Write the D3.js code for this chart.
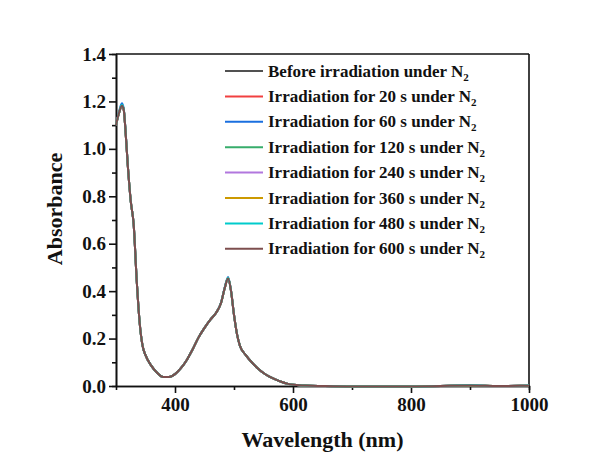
<!DOCTYPE html>
<html>
<head>
<meta charset="utf-8">
<script src="https://cdn.jsdelivr.net/npm/d3@7"></script>
<style>
  body { margin: 0; background: #fff; }
  svg text { font-family: "Times New Roman", "Liberation Serif", serif; font-weight: bold; fill: #111; }
</style>
</head>
<body>
<div id="chart"></div>
<script>
// wavelength grid (nm)
var wavelengths = [300, 305, 310, 313, 316, 320, 325, 330, 335, 340, 345, 350, 360, 370, 380, 390, 400, 410, 420, 430, 440, 450, 460, 470, 478, 484, 490, 495, 500, 505, 510, 520, 530, 540, 550, 560, 570, 580, 590, 600, 620, 650, 700, 800, 900, 950, 1000];

// absorbance for each spectrum (nearly overlapping)
var before = [1.10, 1.15, 1.180, 1.165, 1.08, 0.93, 0.78, 0.68, 0.45, 0.27, 0.17, 0.13, 0.085, 0.055, 0.038, 0.038, 0.050, 0.075, 0.11, 0.155, 0.205, 0.245, 0.28, 0.31, 0.35, 0.41, 0.452, 0.40, 0.30, 0.22, 0.17, 0.13, 0.10, 0.075, 0.055, 0.040, 0.028, 0.018, 0.010, 0.005, 0.002, 0.000, -0.002, -0.002, 0.002, 0.000, 0.001];
var irr20 = [1.10, 1.15, 1.182, 1.167, 1.08, 0.93, 0.78, 0.68, 0.45, 0.27, 0.17, 0.13, 0.085, 0.055, 0.038, 0.038, 0.050, 0.075, 0.11, 0.155, 0.205, 0.245, 0.28, 0.31, 0.35, 0.41, 0.454, 0.40, 0.30, 0.22, 0.17, 0.13, 0.10, 0.075, 0.055, 0.040, 0.028, 0.018, 0.010, 0.005, 0.002, 0.000, -0.002, -0.002, 0.003, 0.000, 0.001];
var irr60 = [1.10, 1.155, 1.192, 1.172, 1.085, 0.93, 0.78, 0.68, 0.45, 0.27, 0.17, 0.13, 0.085, 0.055, 0.038, 0.038, 0.050, 0.075, 0.11, 0.155, 0.205, 0.245, 0.28, 0.31, 0.352, 0.413, 0.460, 0.402, 0.30, 0.22, 0.17, 0.13, 0.10, 0.075, 0.055, 0.040, 0.028, 0.018, 0.010, 0.005, 0.002, 0.000, -0.002, -0.002, 0.002, 0.000, 0.001];
var irr120 = [1.10, 1.15, 1.184, 1.168, 1.08, 0.93, 0.78, 0.68, 0.45, 0.27, 0.17, 0.13, 0.085, 0.055, 0.038, 0.038, 0.050, 0.075, 0.11, 0.155, 0.205, 0.245, 0.28, 0.31, 0.35, 0.41, 0.455, 0.40, 0.30, 0.22, 0.17, 0.13, 0.10, 0.075, 0.055, 0.040, 0.028, 0.018, 0.010, 0.005, 0.002, 0.000, -0.002, -0.002, 0.002, 0.000, 0.001];
var irr240 = [1.10, 1.15, 1.183, 1.167, 1.08, 0.93, 0.78, 0.68, 0.45, 0.27, 0.17, 0.13, 0.085, 0.055, 0.038, 0.038, 0.050, 0.075, 0.11, 0.155, 0.205, 0.245, 0.28, 0.31, 0.35, 0.41, 0.455, 0.40, 0.30, 0.22, 0.17, 0.13, 0.10, 0.075, 0.055, 0.040, 0.028, 0.018, 0.010, 0.005, 0.002, 0.000, -0.002, -0.002, 0.003, 0.000, 0.001];
var irr360 = [1.10, 1.15, 1.184, 1.168, 1.08, 0.93, 0.78, 0.68, 0.45, 0.27, 0.17, 0.13, 0.085, 0.055, 0.038, 0.038, 0.050, 0.075, 0.11, 0.155, 0.205, 0.245, 0.28, 0.31, 0.35, 0.41, 0.456, 0.40, 0.30, 0.22, 0.17, 0.13, 0.10, 0.075, 0.055, 0.040, 0.028, 0.018, 0.010, 0.005, 0.002, 0.000, -0.002, -0.002, 0.002, 0.000, 0.001];
var irr480 = [1.10, 1.15, 1.186, 1.169, 1.08, 0.93, 0.78, 0.68, 0.45, 0.27, 0.17, 0.13, 0.085, 0.055, 0.038, 0.038, 0.050, 0.075, 0.11, 0.155, 0.205, 0.245, 0.28, 0.31, 0.35, 0.41, 0.457, 0.40, 0.30, 0.22, 0.17, 0.13, 0.10, 0.075, 0.055, 0.040, 0.028, 0.018, 0.010, 0.005, 0.002, 0.000, -0.002, -0.002, 0.003, 0.000, 0.002];
var irr600 = [1.10, 1.15, 1.182, 1.166, 1.08, 0.93, 0.78, 0.68, 0.45, 0.27, 0.17, 0.13, 0.085, 0.055, 0.038, 0.038, 0.050, 0.075, 0.11, 0.155, 0.205, 0.245, 0.28, 0.31, 0.35, 0.41, 0.453, 0.40, 0.30, 0.22, 0.17, 0.13, 0.10, 0.075, 0.055, 0.040, 0.028, 0.018, 0.010, 0.005, 0.002, 0.000, -0.002, -0.002, 0.002, 0.000, 0.001];

var labels = ["Before irradiation under N", "Irradiation for 20 s under N", "Irradiation for 60 s under N",
  "Irradiation for 120 s under N", "Irradiation for 240 s under N", "Irradiation for 360 s under N",
  "Irradiation for 480 s under N", "Irradiation for 600 s under N"];
var colors = ["#515151", "#F14040", "#1A6FDF", "#37AD6B", "#B177DE", "#CC9900", "#00CBCC", "#7D4E4E"];
var allSeries = [before, irr20, irr60, irr120, irr240, irr360, irr480, irr600];

var xTicks = [400, 600, 800, 1000];
var yTicks = [0, 0.2, 0.4, 0.6, 0.8, 1.0, 1.2, 1.4];

var svgWidth = 600;
var svgHeight = 454;
var margin = { top: 54, right: 71, bottom: 68, left: 116 };
var chWidth = svgWidth - margin.left - margin.right;
var chHeight = svgHeight - margin.top - margin.bottom;

var svg = d3.select("#chart")
  .append("svg")
  .attr("width", svgWidth)
  .attr("height", svgHeight);

var chGroup = svg.append("g")
  .attr("transform", `translate(${margin.left}, ${margin.top})`);

var xScale = d3.scaleLinear().domain([300, 1000]).range([0, chWidth]);
var yScale = d3.scaleLinear().domain([0, 1.4]).range([chHeight, 0]);

// minor ticks
var xMinor = d3.axisBottom(xScale).tickValues([500, 700, 900]).tickSize(4).tickFormat("");
var yMinor = d3.axisLeft(yScale).tickValues([0.1, 0.3, 0.5, 0.7, 0.9, 1.1, 1.3]).tickSize(4).tickFormat("");
chGroup.append("g").attr("transform", `translate(0, ${chHeight})`).call(xMinor);
chGroup.append("g").call(yMinor);

var xAxis = d3.axisBottom(xScale).tickValues(xTicks).tickSize(7).tickSizeOuter(0).tickPadding(5)
  .tickFormat(d3.format("d"));
var yAxis = d3.axisLeft(yScale).tickValues(yTicks).tickSize(7).tickSizeOuter(0).tickPadding(3)
  .tickFormat(d3.format(".1f"));

chGroup.append("g")
  .attr("transform", `translate(0, ${chHeight})`)
  .call(xAxis);
chGroup.append("g").call(yAxis);

chGroup.selectAll(".domain, .tick line")
  .attr("stroke", "#111")
  .attr("stroke-width", 1.6);
chGroup.selectAll(".tick text")
  .style("font-size", "19px");

// top and right frame
chGroup.append("line").attr("x1", 0).attr("x2", chWidth).attr("y1", 0).attr("y2", 0)
  .attr("stroke", "#111").attr("stroke-width", 1.6);
chGroup.append("line").attr("x1", chWidth).attr("x2", chWidth).attr("y1", 0).attr("y2", chHeight)
  .attr("stroke", "#111").attr("stroke-width", 1.6);

// spectra
var line = d3.line()
  .x((d, i) => xScale(wavelengths[i]))
  .y(d => yScale(d))
  .curve(d3.curveMonotoneX);

allSeries.forEach(function(s, i) {
  chGroup.append("path")
    .datum(s)
    .attr("fill", "none")
    .attr("stroke", colors[i])
    .attr("stroke-width", 2)
    .attr("d", line);
});

// legend
var legend = svg.append("g").attr("transform", "translate(225, 71)");
labels.forEach(function(lab, i) {
  var row = legend.append("g").attr("transform", `translate(0, ${i * 25.4})`);
  row.append("line")
    .attr("x1", 0).attr("x2", 38).attr("y1", 0).attr("y2", 0)
    .attr("stroke", colors[i]).attr("stroke-width", 2);
  var t = row.append("text")
    .attr("x", 43).attr("y", 5.5)
    .style("font-size", "17px");
  t.append("tspan").text(lab);
  t.append("tspan").attr("dy", 4).style("font-size", "11px").text("2");
});

// axis titles
svg.append("text")
  .attr("x", margin.left + chWidth / 2)
  .attr("y", 447)
  .attr("text-anchor", "middle")
  .style("font-size", "22px")
  .text("Wavelength (nm)");

svg.append("text")
  .attr("transform", `translate(62, ${margin.top + chHeight / 2 - 11}) rotate(-90)`)
  .attr("text-anchor", "middle")
  .style("font-size", "22px")
  .text("Absorbance");
</script>
</body>
</html>
